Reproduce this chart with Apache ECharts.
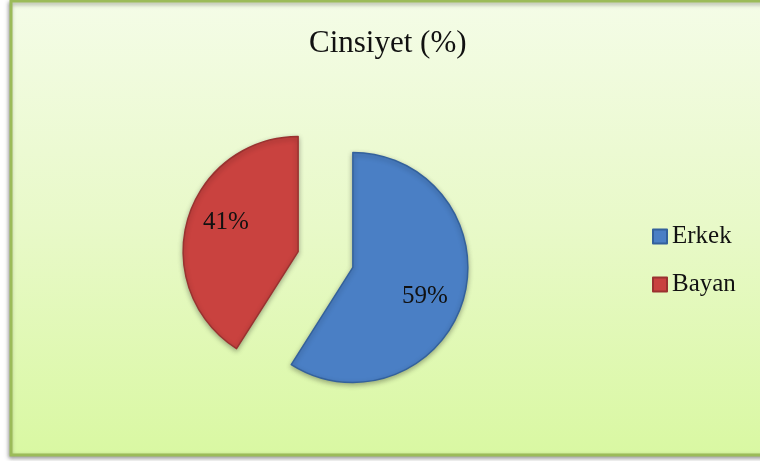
<!DOCTYPE html>
<html>
<head>
<meta charset="utf-8">
<script src="https://cdn.jsdelivr.net/npm/echarts@6/dist/echarts.min.js"></script>
<style>
  html, body { margin: 0; padding: 0; background: #ffffff; }
  #chart { width: 760px; height: 461px; }
</style>
</head>
<body>
<div id="chart"></div>
<script>
const categories = ['Erkek', 'Bayan']
const values = [59, 41]
const sliceColors = ['#4a7fc5', '#c9423f']
const sliceBorders = ['#33619c', '#9a3230']

const total = values.reduce((a, b) => a + b, 0)
// mid angle of each slice, clockwise from 12 o'clock
const midAngles = []
let acc = 0
values.forEach(v => {
  midAngles.push((acc + v / 2) / total * Math.PI * 2)
  acc += v
})

const chart = echarts.init(document.getElementById('chart'))

chart.setOption({
  animation: false,
  graphic: [
    {
      type: 'rect',
      z: -10,
      shape: { x: 11, y: 1, width: 760, height: 454 },
      style: {
        fill: new echarts.graphic.LinearGradient(0, 0, 0, 1, [
          { offset: 0, color: '#f4fce7' },
          { offset: 0.5, color: '#e8f9c8' },
          { offset: 1, color: '#d9f8a2' }
        ]),
        stroke: '#9bbb59',
        lineWidth: 3,
        shadowBlur: 4,
        shadowOffsetX: -1,
        shadowOffsetY: 2,
        shadowColor: 'rgba(0, 0, 0, 0.35)'
      }
    }
  ],
  title: {
    text: 'Cinsiyet (%)',
    left: 309,
    top: 28,
    padding: 0,
    textStyle: {
      fontFamily: 'Liberation Serif',
      fontSize: 31,
      fontWeight: 'normal',
      color: '#111111'
    }
  },
  legend: {
    orient: 'vertical',
    left: 652,
    top: 224,
    padding: 0,
    itemWidth: 14,
    itemHeight: 14,
    itemGap: 23,
    icon: 'rect',
    data: categories,
    textStyle: {
      fontFamily: 'Liberation Serif',
      fontSize: 25,
      lineHeight: 22,
      color: '#111111'
    }
  },
  series: [
    {
      type: 'pie',
      center: [325.5, 259.5],
      radius: 115,
      startAngle: 90,
      selectedMode: 'multiple',
      selectedOffset: 28.5,
      data: categories.map((name, i) => ({
        name,
        value: values[i],
        selected: true,
        itemStyle: {
          color: sliceColors[i],
          borderColor: sliceBorders[i],
          borderWidth: 1.5
        }
      })),
      itemStyle: {
        shadowBlur: 5,
        shadowOffsetY: 2,
        shadowColor: 'rgba(0, 0, 0, 0.3)'
      },
      label: {
        position: 'inside',
        formatter: '{c}%',
        fontFamily: 'Liberation Serif',
        fontSize: 25,
        color: '#111111'
      },
      labelLayout: params => {
        const a = midAngles[params.dataIndex] + 0.43
        return { dx: 18.5 * Math.sin(a), dy: -18.5 * Math.cos(a) }
      },
      emphasis: { disabled: true }
    }
  ]
})
</script>
</body>
</html>
